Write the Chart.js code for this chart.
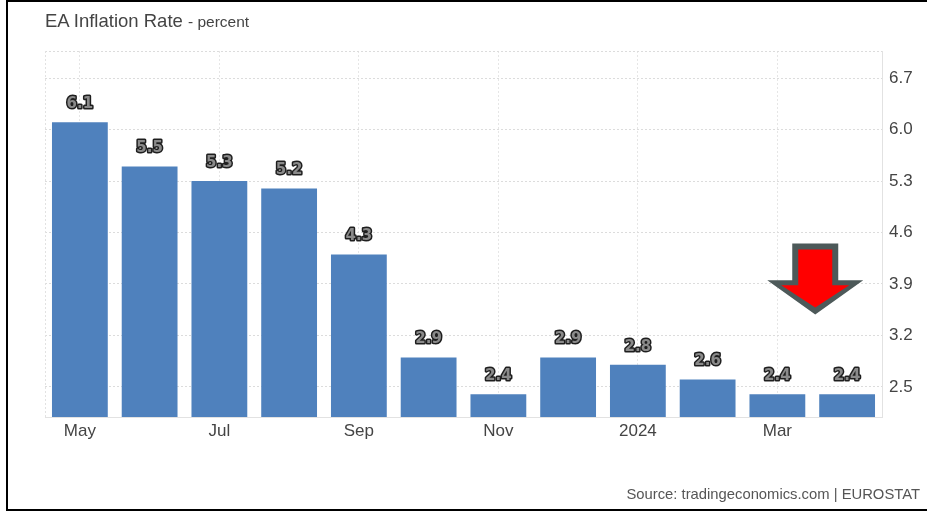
<!DOCTYPE html>
<html>
<head>
<meta charset="utf-8">
<script src="https://cdn.jsdelivr.net/npm/chart.js@4.4.1/dist/chart.umd.min.js"></script>
<style>
  html, body { margin: 0; padding: 0; background: #fff; overflow: hidden; }
  #wrap { position: relative; width: 927px; height: 512px; }
  #frame { position: absolute; left: 6px; top: 0; width: 940px; height: 507px; border: 2px solid #000; box-sizing: content-box; }
  #title { position: absolute; left: 45px; top: 12px; line-height: 18px; font-family: "Liberation Sans", Arial, sans-serif; font-size: 18.5px; color: #444; white-space: nowrap; }
  #title span { font-size: 15.5px; }
  #source { position: absolute; right: 7px; top: 487px; line-height: 15px; font-family: "Liberation Sans", Arial, sans-serif; font-size: 14.8px; color: #555; white-space: nowrap; }
  canvas { position: absolute; left: 0; top: 0; }
</style>
</head>
<body>
<div id="wrap">
  <canvas id="c" width="927" height="512"></canvas>
  <div id="frame"></div>
  <div id="title">EA Inflation Rate <span>- percent</span></div>
  <div id="source">Source: tradingeconomics.com | EUROSTAT</div>
</div>
<script>
// ---- data ----
const categories = ['May', 'Jun', 'Jul', 'Aug', 'Sep', 'Oct', 'Nov', 'Dec', '2024', 'Feb', 'Mar', 'Apr'];
const inflation = [6.1, 5.5, 5.3, 5.2, 4.3, 2.9, 2.4, 2.9, 2.8, 2.6, 2.4, 2.4];
const yTickValues = [2.5, 3.2, 3.9, 4.6, 5.3, 6.0, 6.7];
const yMin = 2.09;
const yMax = 7.07;

const barLabels = {
  id: 'barLabels',
  afterDatasetsDraw(chart) {
    const ctx = chart.ctx;
    const meta = chart.getDatasetMeta(0);
    ctx.save();
    ctx.font = 'bold 15px "DejaVu Sans", sans-serif';
    ctx.textAlign = 'center';
    ctx.textBaseline = 'middle';
    ctx.lineJoin = 'round';
    meta.data.forEach((bar, i) => {
      const txt = inflation[i].toFixed(1);
      const y = bar.y - 18;
      ctx.lineWidth = 3;
      ctx.strokeStyle = '#1e1e1e';
      ctx.strokeText(txt, bar.x, y);
      ctx.fillStyle = '#8a8a8a';
      ctx.fillText(txt, bar.x, y);
    });
    ctx.restore();
  }
};

const extras = {
  id: 'extras',
  beforeDatasetsDraw(chart) {
    const {ctx, chartArea} = chart;
    ctx.save();
    ctx.strokeStyle = '#e2e2e2';
    ctx.lineWidth = 1;
    ctx.setLineDash([2, 2]);
    ctx.beginPath();
    ctx.moveTo(chartArea.left + 0.5, chartArea.top);
    ctx.lineTo(chartArea.left + 0.5, chartArea.bottom);
    ctx.stroke();
    ctx.restore();
  },
  afterDraw(chart) {
    const {ctx} = chart;
    const xs = chart.scales.x, ys = chart.scales.y;
    const cx = (xs.getPixelForValue(10) + xs.getPixelForValue(11)) / 2 + 3;
    const top = ys.getPixelForValue(4.45);
    const sh = ys.getPixelForValue(3.95);
    const tip = ys.getPixelForValue(3.485);
    ctx.save();
    ctx.fillStyle = '#4d5959';
    ctx.beginPath();
    ctx.moveTo(cx - 23, top);
    ctx.lineTo(cx + 23, top);
    ctx.lineTo(cx + 23, sh);
    ctx.lineTo(cx + 48, sh);
    ctx.lineTo(cx, tip);
    ctx.lineTo(cx - 48, sh);
    ctx.lineTo(cx - 23, sh);
    ctx.closePath();
    ctx.fill();
    ctx.fillStyle = '#ff0000';
    ctx.beginPath();
    ctx.moveTo(cx - 17, top + 6);
    ctx.lineTo(cx + 17, top + 6);
    ctx.lineTo(cx + 17, sh + 5);
    ctx.lineTo(cx + 34, sh + 5);
    ctx.lineTo(cx, tip - 7);
    ctx.lineTo(cx - 34, sh + 5);
    ctx.lineTo(cx - 17, sh + 5);
    ctx.closePath();
    ctx.fill();
    ctx.restore();
  }
};

new Chart(document.getElementById('c'), {
  type: 'bar',
  data: {
    labels: categories,
    datasets: [{
      data: inflation,
      backgroundColor: '#4f81bd',
      borderWidth: 0,
      categoryPercentage: 1.0,
      barPercentage: 0.8
    }]
  },
  options: {
    responsive: false,
    animation: false,
    devicePixelRatio: 1,
    layout: { padding: { left: 45, right: 0, top: 51, bottom: 64 } },
    plugins: { legend: { display: false }, tooltip: { enabled: false } },
    scales: {
      x: {
        offset: true,
        afterFit(s) { s.height = 31; },
        grid: {
          offset: false,
          drawTicks: false,
          color: (c) => (c.index % 2 === 0 ? '#e6e6e6' : 'rgba(0,0,0,0)'),
          lineWidth: 1
        },
        border: { display: true, color: '#e2e2e2', width: 1, dash: [2, 2] },
        ticks: {
          autoSkip: false,
          maxRotation: 0,
          padding: 4,
          color: '#444',
          font: { family: '"Liberation Sans", Arial, sans-serif', size: 17 },
          callback: function (v, i) { return i % 2 === 0 ? categories[i] : ''; }
        }
      },
      y: {
        position: 'right',
        min: yMin,
        max: yMax,
        afterFit(s) { s.width = 45; },
        afterBuildTicks(s) {
          s.ticks = yTickValues.map(v => ({ value: v })).concat([{ value: yMax }]);
        },
        grid: { drawTicks: false, color: '#dcdcdc', lineWidth: 1 },
        border: { display: true, color: '#e2e2e2', width: 1, dash: [2, 2] },
        ticks: {
          padding: 7,
          color: '#444',
          font: { family: '"Liberation Sans", Arial, sans-serif', size: 17 },
          callback: function (v) { return v === yMax ? '' : v.toFixed(1); }
        }
      }
    }
  },
  plugins: [barLabels, extras]
});
</script>
</body>
</html>
